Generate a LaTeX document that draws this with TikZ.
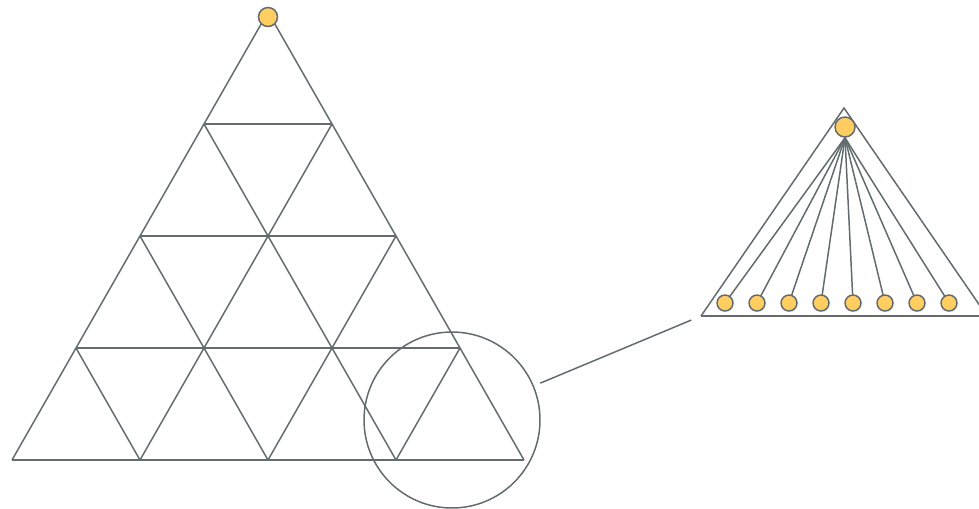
\documentclass[tikz,border=0pt]{standalone}
\usetikzlibrary{positioning,calc}
\definecolor{lngray}{RGB}{99,107,111}
\definecolor{dotfill}{RGB}{255,205,96}

\begin{document}
\begin{tikzpicture}[x=0.02cm, y=-0.02cm,
    edge/.style={draw=lngray, line width=0.85pt},
    rung/.style={draw=lngray, line width=1.5pt},
    dot/.style={circle, draw=lngray, fill=dotfill, line width=0.85pt, inner sep=0pt, minimum size=0.32cm},
    lens/.style={circle, draw=lngray, line width=0.85pt, inner sep=0pt, minimum size=3.52cm}
]
\useasboundingbox (0,0) rectangle (979,508);
% big subdivided triangle
\coordinate (tip) at (268,12);
\coordinate (bl) at (12,460);
\coordinate (br) at (524,460);
\draw[edge] (bl) -- (tip) -- (br);
\foreach \i in {1,2,3} {
  \draw[edge] ($(bl)!\i/4!(br)$) -- ($(tip)!\i/4!(br)$);
  \draw[edge] ($(bl)!\i/4!(br)$) -- ($(bl)!\i/4!(tip)$);
  \draw[rung] ($(tip)!\i/4!(bl)$) -- ($(tip)!\i/4!(br)$);
}
\draw[rung] (bl) -- (br);
\node[dot, minimum size=0.38cm] (top) at (268,17) {};
% zoom
\node[lens] (lens) at (452,420) {};
% small triangle
\coordinate (ftip) at (844,108);
\coordinate (fbl) at (701,316);
\coordinate (fbr) at (987,316);
\draw[edge] (fbl) -- (ftip) -- (fbr);
\draw[rung] (fbl) -- (fbr);
\node[dot, minimum size=0.4cm] (hub) at (845,127) {};
\foreach \i in {0,...,7}
  \draw[edge] (hub.south) -- (725+32*\i,303) node[dot] (leaf\i) {};
\draw[edge, shorten <=4pt, shorten >=6pt] (lens) -- (fbl);
\end{tikzpicture}
\end{document}
